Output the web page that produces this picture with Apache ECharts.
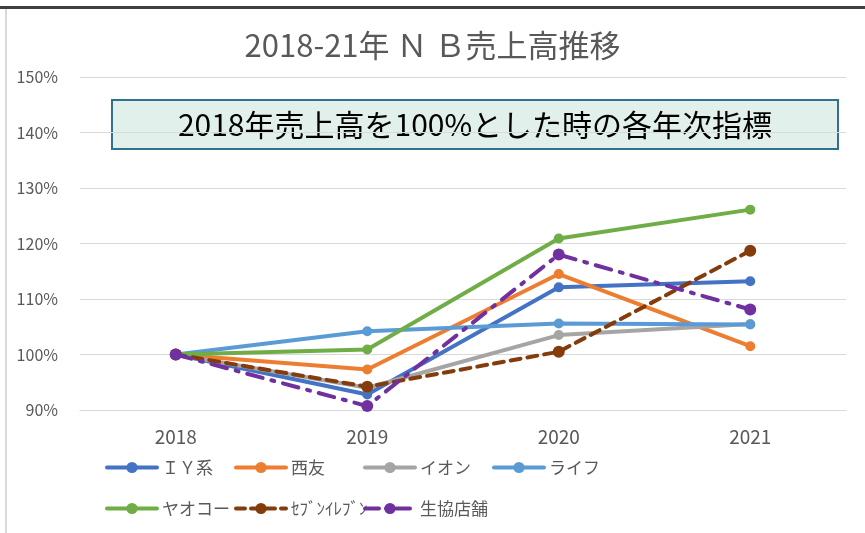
<!DOCTYPE html>
<html>
<head>
<meta charset="utf-8">
<script src="https://cdn.jsdelivr.net/npm/echarts@6/dist/echarts.min.js"></script>
<style>
  html, body { margin: 0; padding: 0; background: #fff; }
  #chart { width: 865px; height: 533px; }
</style>
</head>
<body>
<div id="chart"></div>
<script>
// 年次
var years = ['2018', '2019', '2020', '2021'];
// 2018年=100 とした指標 (%)
var iyValues = [100, 92.8, 112.1, 113.2];
var seiyuValues = [100, 97.3, 114.5, 101.5];
var aeonValues = [100, 94.0, 103.5, 105.5];
var lifeValues = [100, 104.2, 105.6, 105.4];
var yaokoValues = [100, 100.9, 120.9, 126.1];
var sevenValues = [100, 94.2, 100.5, 118.7];
var coopValues = [100, 90.7, 118.0, 108.1];
var seriesNames = ['ＩＹ系', '西友', 'イオン', 'ライフ', 'ヤオコー', 'ｾﾌﾞﾝｲﾚﾌﾞﾝ', '生協店舗'];
var yTicks = [90, 100, 110, 120, 130, 140, 150];

var font = "'Noto Sans CJK JP', 'Noto Sans', sans-serif";
var colors = ['#4472C4', '#ED7D31', '#A5A5A5', '#5B9BD5', '#70AD47', '#843C0C', '#7030A0'];
var values = [iyValues, seiyuValues, aeonValues, lifeValues, yaokoValues, sevenValues, coopValues];
var lineTypes = ['solid', 'solid', 'solid', 'solid', 'solid', [10, 7], [16, 9, 3, 9]];
var legendLineTypes = ['solid', 'solid', 'solid', 'solid', 'solid', [9, 6], [14, 7, 3, 7]];

var myChart = echarts.init(document.getElementById('chart'));

var series = seriesNames.map(function (name, i) {
  return {
    name: name,
    type: 'line',
    data: values[i],
    symbol: 'circle',
    symbolSize: i >= 5 ? 12 : 10,
    lineStyle: { width: 4, color: colors[i], type: lineTypes[i], cap: 'round' },
    itemStyle: { color: colors[i] },
    emphasis: { disabled: true }
  };
});

// 凡例は Excel 風に列をそろえる
var legendPos = [
  [100, 454], [229, 454], [358, 454], [487, 454],
  [100, 495], [229, 495], [358, 495]
];
var legends = seriesNames.map(function (name, i) {
  return {
    data: [name],
    left: legendPos[i][0],
    top: legendPos[i][1],
    itemWidth: 50,
    itemHeight: 14,
    selectedMode: false,
    lineStyle: { width: 4, type: legendLineTypes[i], cap: 'round' },
    textStyle: { fontFamily: font, fontSize: 17, color: '#595959' }
  };
});

var option = {
  animation: false,
  color: colors,
  title: {
    text: '2018-21年 Ｎ Ｂ売上高推移',
    left: 'center',
    top: 25,
    textStyle: { fontFamily: font, fontSize: 31, fontWeight: 'normal', color: '#595959' }
  },
  legend: legends,
  grid: { left: 80, right: 19, top: 77, bottom: 123 },
  xAxis: {
    type: 'category',
    data: years,
    boundaryGap: true,
    axisLine: { show: true, lineStyle: { color: '#D9D9D9', width: 1 } },
    axisTick: { show: false },
    axisLabel: { margin: 17, fontFamily: font, fontSize: 19, color: '#595959' }
  },
  yAxis: {
    type: 'value',
    min: yTicks[0],
    max: yTicks[yTicks.length - 1],
    interval: 10,
    axisLine: { show: false },
    axisTick: { show: false },
    axisLabel: { margin: 22, fontFamily: font, fontSize: 16, color: '#595959', formatter: '{value}%' },
    splitLine: { show: true, lineStyle: { color: '#D9D9D9', width: 1 } }
  },
  graphic: [
    { type: 'rect', shape: { x: 0, y: 6, width: 865, height: 3 }, style: { fill: '#404040' }, silent: true },
    { type: 'rect', shape: { x: 5, y: 9, width: 2, height: 524 }, style: { fill: '#D9D9D9' }, silent: true },
    {
      type: 'group',
      left: 111,
      top: 99,
      z: 100,
      children: [
        { type: 'rect', shape: { x: 0, y: 0, width: 726, height: 49 }, style: { fill: '#E2F0EC', stroke: '#31708F', lineWidth: 2 } },
        {
          type: 'text',
          x: 363,
          y: 25,
          style: {
            text: '2018年売上高を100%とした時の各年次指標',
            fontFamily: font,
            fontSize: 30,
            fill: '#000',
            align: 'center',
            verticalAlign: 'middle'
          }
        }
      ]
    }
  ],
  series: series
};

myChart.setOption(option);
</script>
</body>
</html>
